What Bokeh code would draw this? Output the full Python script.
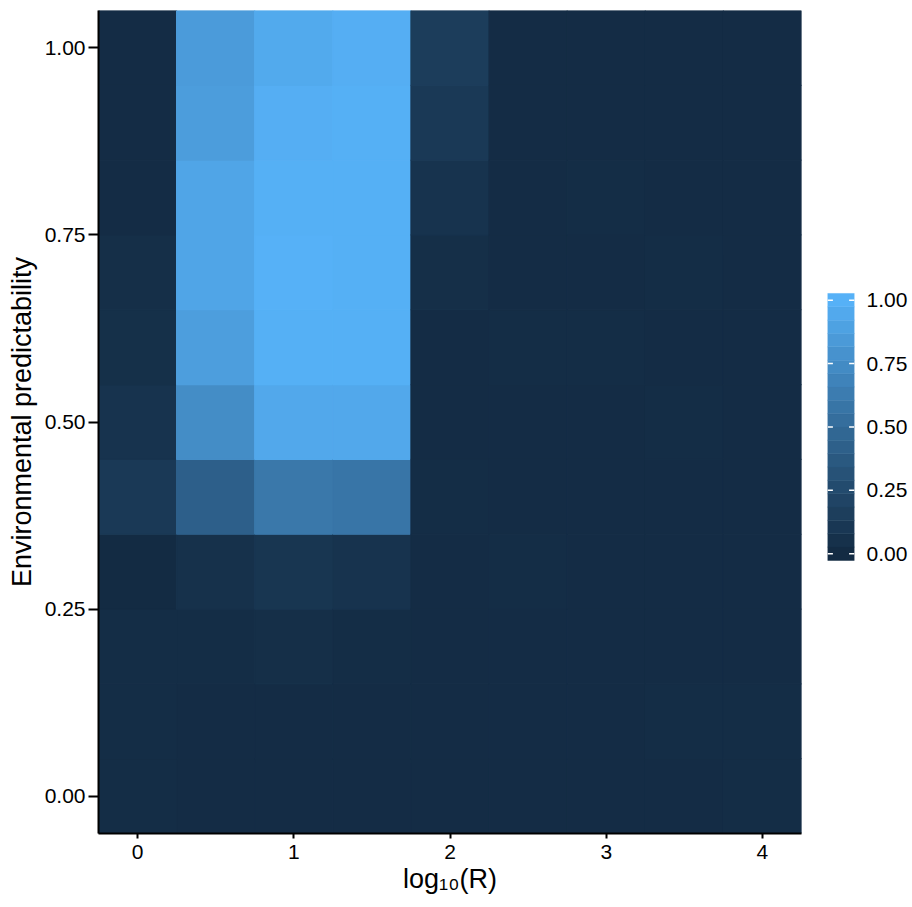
import numpy as np
from bokeh.plotting import figure
from bokeh.layouts import row
from bokeh.models import Range1d, FixedTicker, ColumnDataSource
from bokeh.embed import file_html
from bokeh.resources import INLINE

# ---------------- data ----------------
x_vals = [0.0, 0.5, 1.0, 1.5, 2.0, 2.5, 3.0, 3.5, 4.0]          # log10(R)
y_vals = [0.0, 0.1, 0.2, 0.3, 0.4, 0.5, 0.6, 0.7, 0.8, 0.9, 1.0]  # predictability

# one list per x column, values listed from y = 0.0 up to y = 1.0
z_x00 = [0.02, 0.02, 0.02, 0.00, 0.12, 0.07, 0.04, 0.03, 0.01, 0.01, 0.01]
z_x05 = [0.01, 0.01, 0.02, 0.05, 0.42, 0.75, 0.87, 0.92, 0.92, 0.86, 0.85]
z_x10 = [0.01, 0.01, 0.03, 0.09, 0.60, 0.94, 0.99, 1.00, 0.99, 0.98, 0.95]
z_x15 = [0.01, 0.01, 0.02, 0.07, 0.58, 0.94, 0.99, 0.99, 0.99, 0.99, 0.98]
z_x20 = [0.01, 0.01, 0.01, 0.01, 0.02, 0.01, 0.01, 0.03, 0.07, 0.12, 0.15]
z_x25 = [0.01, 0.01, 0.01, 0.02, 0.01, 0.01, 0.02, 0.01, 0.01, 0.01, 0.01]
z_x30 = [0.01, 0.01, 0.01, 0.01, 0.01, 0.01, 0.02, 0.01, 0.02, 0.01, 0.01]
z_x35 = [0.01, 0.02, 0.01, 0.01, 0.01, 0.02, 0.01, 0.02, 0.01, 0.01, 0.01]
z_x40 = [0.02, 0.02, 0.01, 0.01, 0.01, 0.01, 0.01, 0.01, 0.01, 0.01, 0.01]
z_columns = [z_x00, z_x05, z_x10, z_x15, z_x20, z_x25, z_x30, z_x35, z_x40]

x_ticks = [0, 1, 2, 3, 4]
x_tick_labels = ["0", "1", "2", "3", "4"]
y_ticks = [0.0, 0.25, 0.5, 0.75, 1.0]
y_tick_labels = ["0.00", "0.25", "0.50", "0.75", "1.00"]
cbar_ticks = [0.0, 0.25, 0.5, 0.75, 1.0]
cbar_tick_labels = ["0.00", "0.25", "0.50", "0.75", "1.00"]
cbar_nbin = 20

low_color = "#132B43"
high_color = "#56B1F7"
FONT = "Liberation Sans"

# ---------------- colour gradient (CIELAB, like ggplot) ----------------
M = np.array([[0.4124564, 0.3575761, 0.1804375],
              [0.2126729, 0.7151522, 0.0721750],
              [0.0193339, 0.1191920, 0.9503041]])
WHITE = np.array([0.95047, 1.0, 1.08883])


def hex_to_lab(h):
    rgb = np.array([int(h[i:i + 2], 16) for i in (1, 3, 5)]) / 255.0
    lin = np.where(rgb <= 0.04045, rgb / 12.92, ((rgb + 0.055) / 1.055) ** 2.4)
    xyz = M @ lin / WHITE
    f = np.where(xyz > 0.008856, np.cbrt(xyz), 7.787 * xyz + 16 / 116)
    return np.array([116 * f[1] - 16, 500 * (f[0] - f[1]), 200 * (f[1] - f[2])])


def lab_to_hex(lab):
    L, a, b = lab
    fy = (L + 16) / 116
    fx = fy + a / 500
    fz = fy - b / 200
    f = np.array([fx, fy, fz])
    xyz = np.where(f ** 3 > 0.008856, f ** 3, (f - 16 / 116) / 7.787) * WHITE
    lin = np.linalg.solve(M, xyz)
    lin = np.clip(lin, 0, 1)
    rgb = np.where(lin <= 0.0031308, 12.92 * lin, 1.055 * lin ** (1 / 2.4) - 0.055)
    rgb = np.clip(np.round(rgb * 255), 0, 255).astype(int)
    return "#%02x%02x%02x" % tuple(rgb)


LAB_LO = hex_to_lab(low_color)
LAB_HI = hex_to_lab(high_color)


def grad(t):
    return lab_to_hex(LAB_LO + float(t) * (LAB_HI - LAB_LO))


# ---------------- heatmap table ----------------
zmin = min(min(c) for c in z_columns)
zmax = max(max(c) for c in z_columns)
xs, ys, zs, cols = [], [], [], []
for xv, col in zip(x_vals, z_columns):
    for yv, zv in zip(y_vals, col):
        xs.append(xv)
        ys.append(yv)
        zs.append(zv)
        cols.append(grad((zv - zmin) / (zmax - zmin)))
src = ColumnDataSource(dict(x=xs, y=ys, z=zs, color=cols))

dx = x_vals[1] - x_vals[0]
dy = y_vals[1] - y_vals[0]

BORDER_TOP = 10
BORDER_BOTTOM = 72
HEIGHT = 905
TICK_FS = "21px"
TITLE_FS = "27px"

p = figure(width=815, height=HEIGHT, output_backend="svg", toolbar_location=None,
           x_range=Range1d(x_vals[0] - dx / 2, x_vals[-1] + dx / 2),
           y_range=Range1d(y_vals[0] - dy / 2, y_vals[-1] + dy / 2),
           min_border_left=98, min_border_right=14,
           min_border_top=BORDER_TOP, min_border_bottom=BORDER_BOTTOM)
p.outline_line_color = None
p.grid.visible = False
p.background_fill_color = "white"

p.rect(x="x", y="y", width=dx, height=dy, source=src,
       fill_color="color", line_color="color", line_width=1.2)

for ax in (p.xaxis[0], p.yaxis[0]):
    ax.axis_line_color = "black"
    ax.axis_line_width = 2
    ax.major_tick_line_color = "black"
    ax.major_tick_line_width = 2
    ax.major_tick_in = 0
    ax.minor_tick_line_color = None
    ax.major_label_text_font = FONT
    ax.major_label_text_font_size = TICK_FS
    ax.major_label_text_color = "black"
    ax.axis_label_text_font = FONT
    ax.axis_label_text_font_size = TITLE_FS
    ax.axis_label_text_font_style = "normal"
    ax.axis_label_text_color = "black"

p.xaxis.ticker = FixedTicker(ticks=x_ticks)
p.xaxis.major_label_overrides = dict(zip(x_ticks, x_tick_labels))
p.xaxis.major_tick_out = 5
p.xaxis.major_label_standoff = 6
p.xaxis.axis_label = "log\u2081\u2080(R)"
p.xaxis.axis_label_standoff = 2

p.yaxis.ticker = FixedTicker(ticks=y_ticks)
p.yaxis.major_label_overrides = dict(zip(y_ticks, y_tick_labels))
p.yaxis.major_tick_out = 10
p.yaxis.major_label_standoff = 3
p.yaxis.axis_label = "Environmental predictability"
p.yaxis.axis_label_standoff = 5

# ---------------- colour bar (separate narrow figure, same borders) ----------------
bin_vals = np.linspace(0, 1, cbar_nbin)
half = 0.5 / (cbar_nbin - 1)
cb_src = ColumnDataSource(dict(
    bottom=bin_vals - half, top=bin_vals + half,
    color=[grad(v) for v in bin_vals]))

# vertical window of the colour-bar panel, chosen so the bar sits mid-right
CB_Y_LO, CB_Y_HI = -1.103, 2.142

cb = figure(width=95, height=HEIGHT, output_backend="svg", toolbar_location=None,
            x_range=Range1d(0, 1), y_range=Range1d(CB_Y_LO, CB_Y_HI),
            x_axis_location=None, y_axis_location="right",
            min_border_left=12, min_border_right=54,
            min_border_top=BORDER_TOP, min_border_bottom=BORDER_BOTTOM)
cb.outline_line_color = None
cb.grid.visible = False
cb.quad(left=0, right=1, bottom="bottom", top="top", source=cb_src,
        fill_color="color", line_color="color", line_width=0.5)
tick_v = [(t - zmin) / (zmax - zmin) for t in cbar_ticks]
cb.segment(x0=0, x1=0.2, y0=tick_v, y1=tick_v, line_color="white", line_width=1.5)
cb.segment(x0=0.8, x1=1, y0=tick_v, y1=tick_v, line_color="white", line_width=1.5)

ya = cb.yaxis[0]
ya.ticker = FixedTicker(ticks=tick_v)
ya.major_label_overrides = dict(zip(tick_v, cbar_tick_labels))
ya.axis_line_color = None
ya.major_tick_line_color = None
ya.minor_tick_line_color = None
ya.major_tick_out = 0
ya.major_tick_in = 0
ya.major_label_standoff = 12
ya.major_label_text_font = FONT
ya.major_label_text_font_size = TICK_FS
ya.major_label_text_color = "black"

layout = row(p, cb)
open("out.html", "w").write(file_html(layout, INLINE))
